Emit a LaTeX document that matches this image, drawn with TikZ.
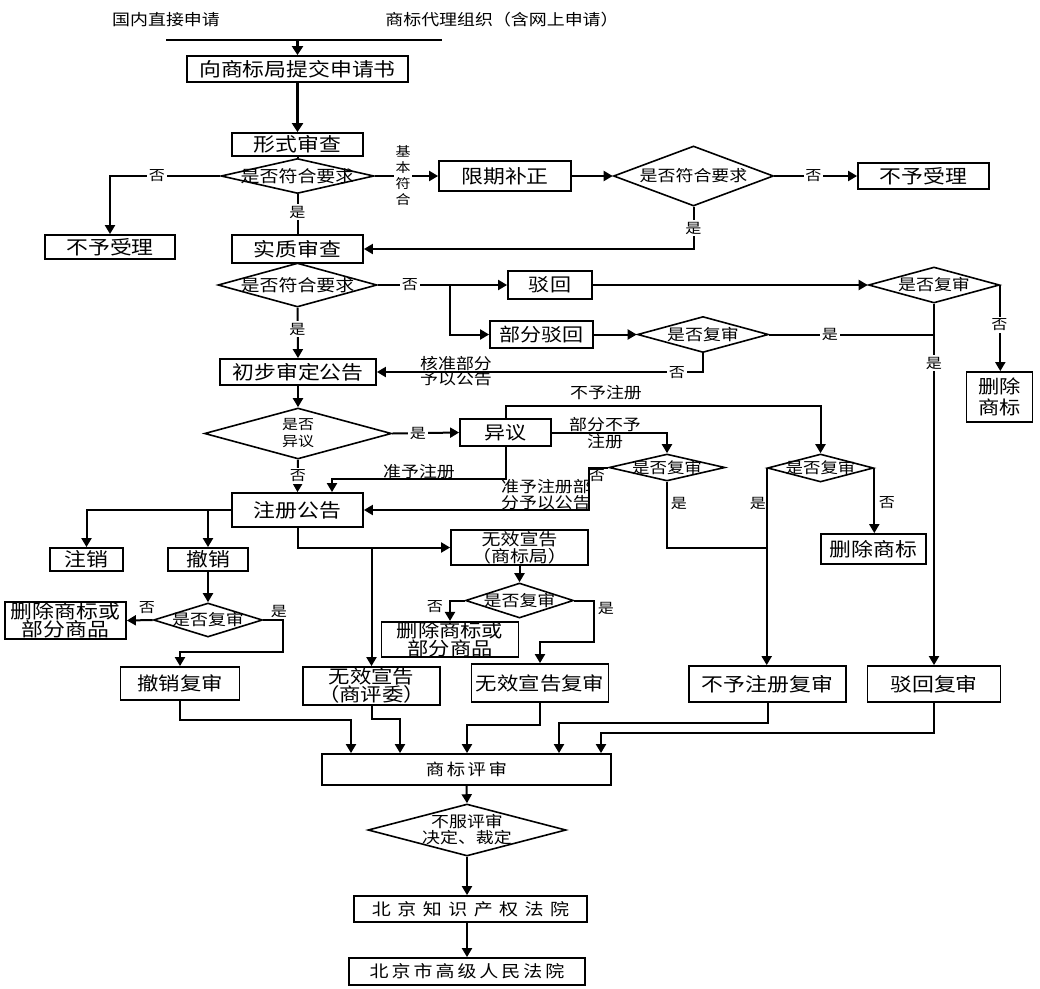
\documentclass[tikz,border=0pt]{standalone}
\usepackage{fontspec}
\setmainfont{Noto Sans CJK SC}[FakeStretch=1.15]
\usetikzlibrary{arrows.meta,shapes.geometric,calc}
\newcommand{\myfs}[2]{\fontsize{#1}{#2}\selectfont}
\newcommand{\gp}[1]{\hspace{#1}}
\begin{document}
\begin{tikzpicture}[x=1pt,y=-1pt,
  box/.style={draw, line width=1.8pt, inner sep=0pt, align=center, fill=white, font=\myfs{19}{22}},
  dia/.style={draw, shape=diamond, line width=1.6pt, inner sep=0pt},
  ln/.style={line width=2pt},
  arr/.style={line width=2pt, -{Triangle[width=10pt,length=9pt]}},
  arrT/.style={line width=2.8pt, -{Triangle[width=11pt,length=9pt]}},
  lab/.style={inner sep=1.5pt, fill=white, font=\myfs{14}{16}},
  labn/.style={inner sep=0pt, font=\myfs{14}{16}},
  t18/.style={inner sep=0pt, align=center, font=\myfs{15.6}{17}},
  t17/.style={inner sep=0pt, align=center, font=\myfs{15.2}{16}},
  t19/.style={inner sep=0pt, align=center, font=\myfs{16.5}{18}},
  t16/.style={inner sep=0pt, align=center, font=\myfs{13.9}{17}}
]
\useasboundingbox[fill=white] (0,0) rectangle (1040,988);

% top
\node[t18] (top1) at (166,20) {国内直接申请};
\node[t18] (top2) at (502,20) {商标代理组织（含网上申请）};
\coordinate (hl) at (166,40);
\coordinate (hr) at (442,40);

% boxes and diamonds
\node[box, minimum width=221, minimum height=26] (b1) at (297.5,69) {向商标局提交申请书};
\node[box, minimum width=131, minimum height=23] (b2) at (297.5,144.5) {形式审查};
\node[dia, minimum width=153, minimum height=35] (d1) at (297.5,176) {};
\node[t19] (d1t) at (d1) {是否符合要求};
\node[box, minimum width=130, minimum height=24] (nl1) at (110,247) {不予受理};
\node[box, minimum width=131, minimum height=28] (b3) at (297.5,249) {实质审查};
\node[box, minimum width=132, minimum height=30] (b4) at (505,176) {限期补正};
\node[dia, minimum width=160, minimum height=60] (d2) at (693.5,176) {};
\node[t18] (d2t) at (d2) {是否符合要求};
\node[box, minimum width=131, minimum height=26] (nr1) at (923.5,176) {不予受理};

\node[dia, minimum width=159, minimum height=44] (d3) at (297.5,285) {};
\node[t19] (d3t) at (d3) {是否符合要求};
\node[box, minimum width=84, minimum height=28, font=\myfs{18.3}{22}] (b5) at (550,285) {驳回};
\node[box, minimum width=103, minimum height=27, font=\myfs{18.3}{22}] (b6) at (541.5,334.5) {部分驳回};
\node[dia, minimum width=131, minimum height=36] (d4) at (703,334.5) {};
\node[t18] (d4t) at (d4) {是否复审};
\node[dia, minimum width=131, minimum height=36] (d5) at (934,285) {};
\node[t18] (d5t) at (d5) {是否复审};
\node[box, minimum width=66, minimum height=50, font=\myfs{18.5}{21}] (b7) at (999.5,397) {删除\\商标};
\node[box, minimum width=156, minimum height=26] (b8) at (298,372) {初步审定公告};
\node[dia, minimum width=187, minimum height=51] (d6) at (298,433.5) {};
\node[t16] (d6t) at (d6) {是否\\异议};
\node[box, minimum width=91, minimum height=27, font=\myfs{18.3}{22}] (b9) at (505.5,432.5) {异议};
\node[box, minimum width=131, minimum height=34] (b10) at (297.5,510) {注册公告};
\node[dia, minimum width=116, minimum height=27] (d7) at (667,467.5) {};
\node[t17] (d7t) at (d7) {是否复审};
\node[dia, minimum width=106, minimum height=28] (d8) at (820.5,468) {};
\node[t17] (d8t) at (d8) {是否复审};
\node[box, minimum width=105, minimum height=30] (b11) at (873.5,549) {删除商标};
\node[box, minimum width=157, minimum height=36] (b12) at (767.5,684) {不予注册复审};
\node[box, minimum width=133, minimum height=36] (b13) at (934,684) {驳回复审};

\node[box, minimum width=73, minimum height=23] (b14) at (86.5,559.5) {注销};
\node[box, minimum width=80, minimum height=23] (b15) at (208,559.5) {撤销};
\node[dia, minimum width=109, minimum height=34] (d9) at (208,620) {};
\node[t18] (d9t) at (d9) {是否复审};
\node[box, minimum width=121, minimum height=37, font=\myfs{19}{18}] (b16) at (65.5,620.5) {删除商标或\\部分商品};
\node[box, minimum width=119, minimum height=33, font=\myfs{18.6}{22}] (b19) at (180,683.5) {撤销复审};
\node[box, minimum width=137, minimum height=35, font=\myfs{16.5}{17}] (b17) at (519.5,547.5) {无效宣告\\（商标局）};
\node[dia, minimum width=108, minimum height=35] (d10) at (519.5,600.5) {};
\node[t18] (d10t) at (d10) {是否复审};
\node[box, minimum width=137, minimum height=33, font=\myfs{18.5}{16.5}] (b18) at (450,639.5) {删除商标或\\部分商品};
\node[box, minimum width=137, minimum height=38, font=\myfs{18.6}{18}] (b20) at (371.5,686) {无效宣告\\（商评委）};
\node[box, minimum width=137, minimum height=38, font=\myfs{18.6}{22}] (b21) at (540,683) {无效宣告复审};

\node[box, minimum width=289, minimum height=31, font=\myfs{16}{20}] (b22) at (466.5,769.5) {商\gp{2.5pt}标\gp{2.5pt}评\gp{2.5pt}审};
\node[dia, minimum width=198, minimum height=52] (d11) at (467,830) {};
\node[t18, font=\myfs{15.6}{16}] (d11t) at (d11) {不服评审\\决定、裁定};
\node[box, minimum width=233, minimum height=26, font=\myfs{16.5}{20}] (b23) at (470.5,909) {北\gp{6.5pt}京\gp{6.5pt}知\gp{6.5pt}识\gp{6.5pt}产\gp{6.5pt}权\gp{6.5pt}法\gp{6.5pt}院};
\node[box, minimum width=236, minimum height=27, font=\myfs{16.5}{20}] (b24) at (467,971.5) {北\gp{3pt}京\gp{3pt}市\gp{3pt}高\gp{3pt}级\gp{3pt}人\gp{3pt}民\gp{3pt}法\gp{3pt}院};

% connectors
\draw[line width=1.2pt] (hl) -- (hr);
\draw[arrT] (b1.north |- hl) -- (b1.north);
\draw[arrT] (b1.south) -- (b2.north);
\draw[ln] (b2.south) -- (d1.north);
\draw[arr] (d1.west) -| (nl1.north);
\draw[ln] (d1.south) -- (b3.north);
\draw[arr] (d1.east) -- (b4.west);
\draw[arr] (b4.east) -- (d2.west);
\draw[arr] (d2.east) -- (nr1.west);
\draw[arr] (d2.south) |- (b3.east);

\draw[arr] (d3.east) -- (b5.west);
\coordinate (br1) at (450,285);
\draw[arr] (br1) |- (b6.west);
\draw[arr] (b6.east) -- (d4.west);
\draw[ln] (d4.east) -- (d4.east -| d5.south);
\draw[arr] (b5.east) -- (d5.west);
\draw[arr] (d5.east) -- (d5.east |- b7.north);
\draw[arr] (d5.south) -- (b13.north);
\draw[arr] (d4.south) |- (b8.east);
\draw[arr] (d3.south) -- (b8.north);
\draw[arr] (b8.south) -- (d6.north);
\draw[arr] (d6.east) -- (b9.west);
\draw[arr] (d6.south) -- (b10.north);
\coordinate (c1) at (332,479);
\draw[arr] (b9.south) |- (c1) -- (c1 |- b10.north);
\coordinate (c2) at (820.5,406);
\draw[arr] (b9.north) |- (c2) -- (d8.north);
\draw[arr] (b9.east) -| (d7.north);
\coordinate (c3) at (589,467.5);
\draw[arr] (d7.west) -- (c3) |- (b10.east);
\coordinate (c4) at (767.5,548);
\draw[ln] (d7.south) |- (c4);
\draw[arr] (d8.west) -- (d8.west |- b12.north);
\draw[arr] (d8.east) -- (d8.east |- b11.north);

\draw[arr] (b10.west) -| (b14.north);
\draw[arr] (b15.north |- b10.west) -- (b15.north);
\draw[arr] (b15.south) -- (d9.north);
\draw[arr] (d9.west) -- (b16.east);
\coordinate (c5) at (283,652);
\draw[arr] (d9.east) -| (c5) -| (b19.north);
\draw[arr] (b10.south) |- (b17.west);
\draw[arr] (b20.north |- b17.west) -- (b20.north);
\draw[arr] (b17.south) -- (d10.north);
\draw[arr] (d10.west) -| (b18.north);
\coordinate (c6) at (594,642);
\draw[arr] (d10.east) -| (c6) -| (b21.north);

\coordinate (e1) at (351,720);
\coordinate (e2) at (400,719);
\coordinate (e3) at (467,725);
\coordinate (e4) at (559,723);
\coordinate (e5) at (601,733);
\draw[arr] (b19.south) |- (e1) -- (e1 |- b22.north);
\draw[arr] (b20.south) |- (e2) -- (e2 |- b22.north);
\draw[arr] (b21.south) |- (e3) -- (e3 |- b22.north);
\draw[arr] (b12.south) |- (e4) -- (e4 |- b22.north);
\draw[arr] (b13.south) |- (e5) -- (e5 |- b22.north);
\draw[arr] (b22.south) -- (d11.north);
\draw[arr] (d11.south) -- (d11.south |- b23.north);
\draw[arr] (b24.north |- b23.south) -- (b24.north);

% labels
\node[lab] (l1) at (157,176) {否};
\node[lab] (l2) at (297.5,212) {是};
\node[lab, align=center, font=\myfs{13}{16}] (l3) at (403,176) {基\\本\\符\\合};
\node[lab] (l4) at (813.5,176) {否};
\node[lab] (l5) at (693.5,228) {是};
\node[lab] (l6) at (410,285) {否};
\node[lab] (l7) at (297.5,329) {是};
\node[lab] (l8) at (999.5,325) {否};
\node[lab] (l9) at (830,334.5) {是};
\node[lab] (l10) at (934,363) {是};
\node[lab] (l11) at (677,372.5) {否};
\node[t18, font=\myfs{15.6}{14}] (l12) at (456,371) {核准部分\\予以公告};
\node[lab] (l13) at (418,433.5) {是};
\node[lab] (l14) at (298,476) {否};
\node[t18] (l15) at (419,472) {准予注册};
\node[t18] (l16) at (606,393) {不予注册};
\node[t18, font=\myfs{15.6}{17}] (l17) at (605,433.5) {部分不予\\注册};
\node[labn] (l18) at (597,476) {否};
\node[t18, font=\myfs{15.6}{16}] (l19) at (546,495) {准予注册部\\分予以公告};
\node[labn] (l20) at (679,503) {是};
\node[labn] (l21) at (758,503) {是};
\node[labn] (l22) at (887,503) {否};
\node[labn] (l23) at (147,608) {否};
\node[labn] (l24) at (279,611) {是};
\node[labn] (l25) at (435,607) {否};
\node[labn] (l26) at (606,608) {是};
\end{tikzpicture}
\end{document}
